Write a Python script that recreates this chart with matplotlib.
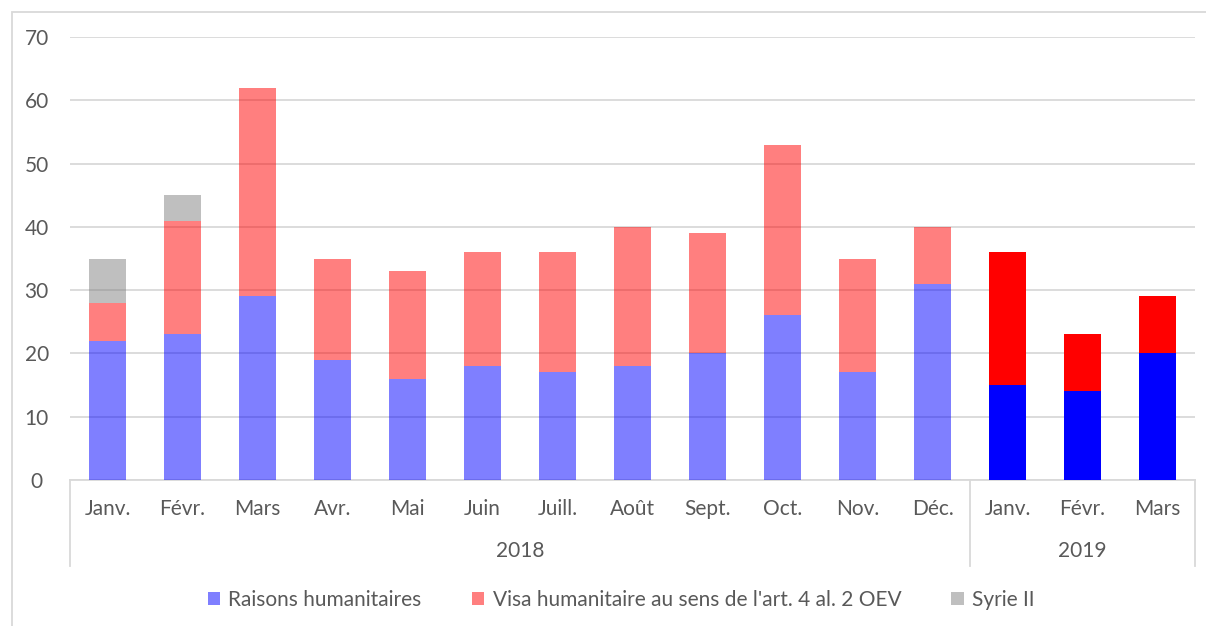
import matplotlib.pyplot as plt
from matplotlib.patches import Patch, Rectangle
import numpy as np

plt.rcParams['font.family'] = ['Lato', 'DejaVu Sans']

# data
mois = ['Janv.', 'Févr.', 'Mars', 'Avr.', 'Mai', 'Juin', 'Juill.', 'Août',
        'Sept.', 'Oct.', 'Nov.', 'Déc.', 'Janv.', 'Févr.', 'Mars']
annees = ['2018', '2019']
nb_mois = [12, 3]

raisons = [22, 23, 29, 19, 16, 18, 17, 18, 20, 26, 17, 31, 15, 14, 20]
visa = [6, 18, 33, 16, 17, 18, 19, 22, 19, 27, 18, 9, 21, 9, 9]
syrie = [7, 4, 0, 0, 0, 0, 0, 0, 0, 0, 0, 0, 0, 0, 0]

labels = ['Raisons humanitaires', "Visa humanitaire au sens de l'art. 4 al. 2 OEV", 'Syrie II']

txt = '#595959'
grid = '#D9D9D9'
fs = 15

fig = plt.figure(figsize=(12.06, 6.26), dpi=100)
ax = fig.add_axes([70/1206, (626-480)/626, (1195-70)/1206, 443/626])

x = np.arange(len(mois))
n18 = nb_mois[0]
raisons = np.array(raisons)
visa = np.array(visa)
syrie = np.array(syrie)

# 2018: pale (half transparent), 2019: full colour
for sl, a in [(slice(0, n18), 0.5), (slice(n18, None), 1.0)]:
    ax.bar(x[sl], raisons[sl], 0.5, color='#0000FF', alpha=a, zorder=3, lw=0)
    ax.bar(x[sl], visa[sl], 0.5, bottom=raisons[sl], color='#FF0000', alpha=a, zorder=3, lw=0)
    ax.bar(x[sl], syrie[sl], 0.5, bottom=raisons[sl] + visa[sl], color='#808080', alpha=a, zorder=3, lw=0)

ax.set_xlim(-0.5, len(mois) - 0.5)
ax.set_ylim(0, 70)
ax.set_yticks(range(0, 71, 10))
ax.yaxis.grid(True, color=grid, lw=1.3, zorder=0)
ax.set_axisbelow(True)
for s in ['left', 'right', 'top']:
    ax.spines[s].set_visible(False)
ax.spines['bottom'].set_color(grid)
ax.spines['bottom'].set_linewidth(1.3)
ax.tick_params(axis='y', length=0, pad=24, labelsize=fs, labelcolor=txt)
for t in ax.get_yticklabels():
    t.set_horizontalalignment('center')
ax.set_xticks(x)
ax.set_xticklabels(mois)
ax.tick_params(axis='x', length=0, pad=14, labelsize=fs, labelcolor=txt)

# year group labels and separators
trans = ax.get_xaxis_transform()
bounds = [-0.5]
for n in nb_mois:
    bounds.append(bounds[-1] + n)
for b in bounds:
    ax.plot([b, b], [0, -0.194], transform=trans, color=grid, lw=1.3, clip_on=False)
for i, an in enumerate(annees):
    ax.text((bounds[i] + bounds[i + 1]) / 2, -0.16, an, transform=trans,
            ha='center', va='center', fontsize=fs, color=txt)

handles = [Patch(color='#0000FF', alpha=0.5, lw=0),
           Patch(color='#FF0000', alpha=0.5, lw=0),
           Patch(color='#808080', alpha=0.5, lw=0)]
fig.legend(handles, labels, loc='center', bbox_to_anchor=(0.515, 1 - 600/626), ncol=3,
           frameon=False, fontsize=fs, labelcolor=txt, handlelength=0.6, handleheight=0.6,
           handletextpad=0.4, columnspacing=2.4)

# outer chart border
fig.patches.append(Rectangle((12/1206, -0.1), 1.2, 1 - 12/626 + 0.1, transform=fig.transFigure,
                             fill=False, edgecolor=grid, lw=1.3))

fig.savefig('out.png', dpi=100)
